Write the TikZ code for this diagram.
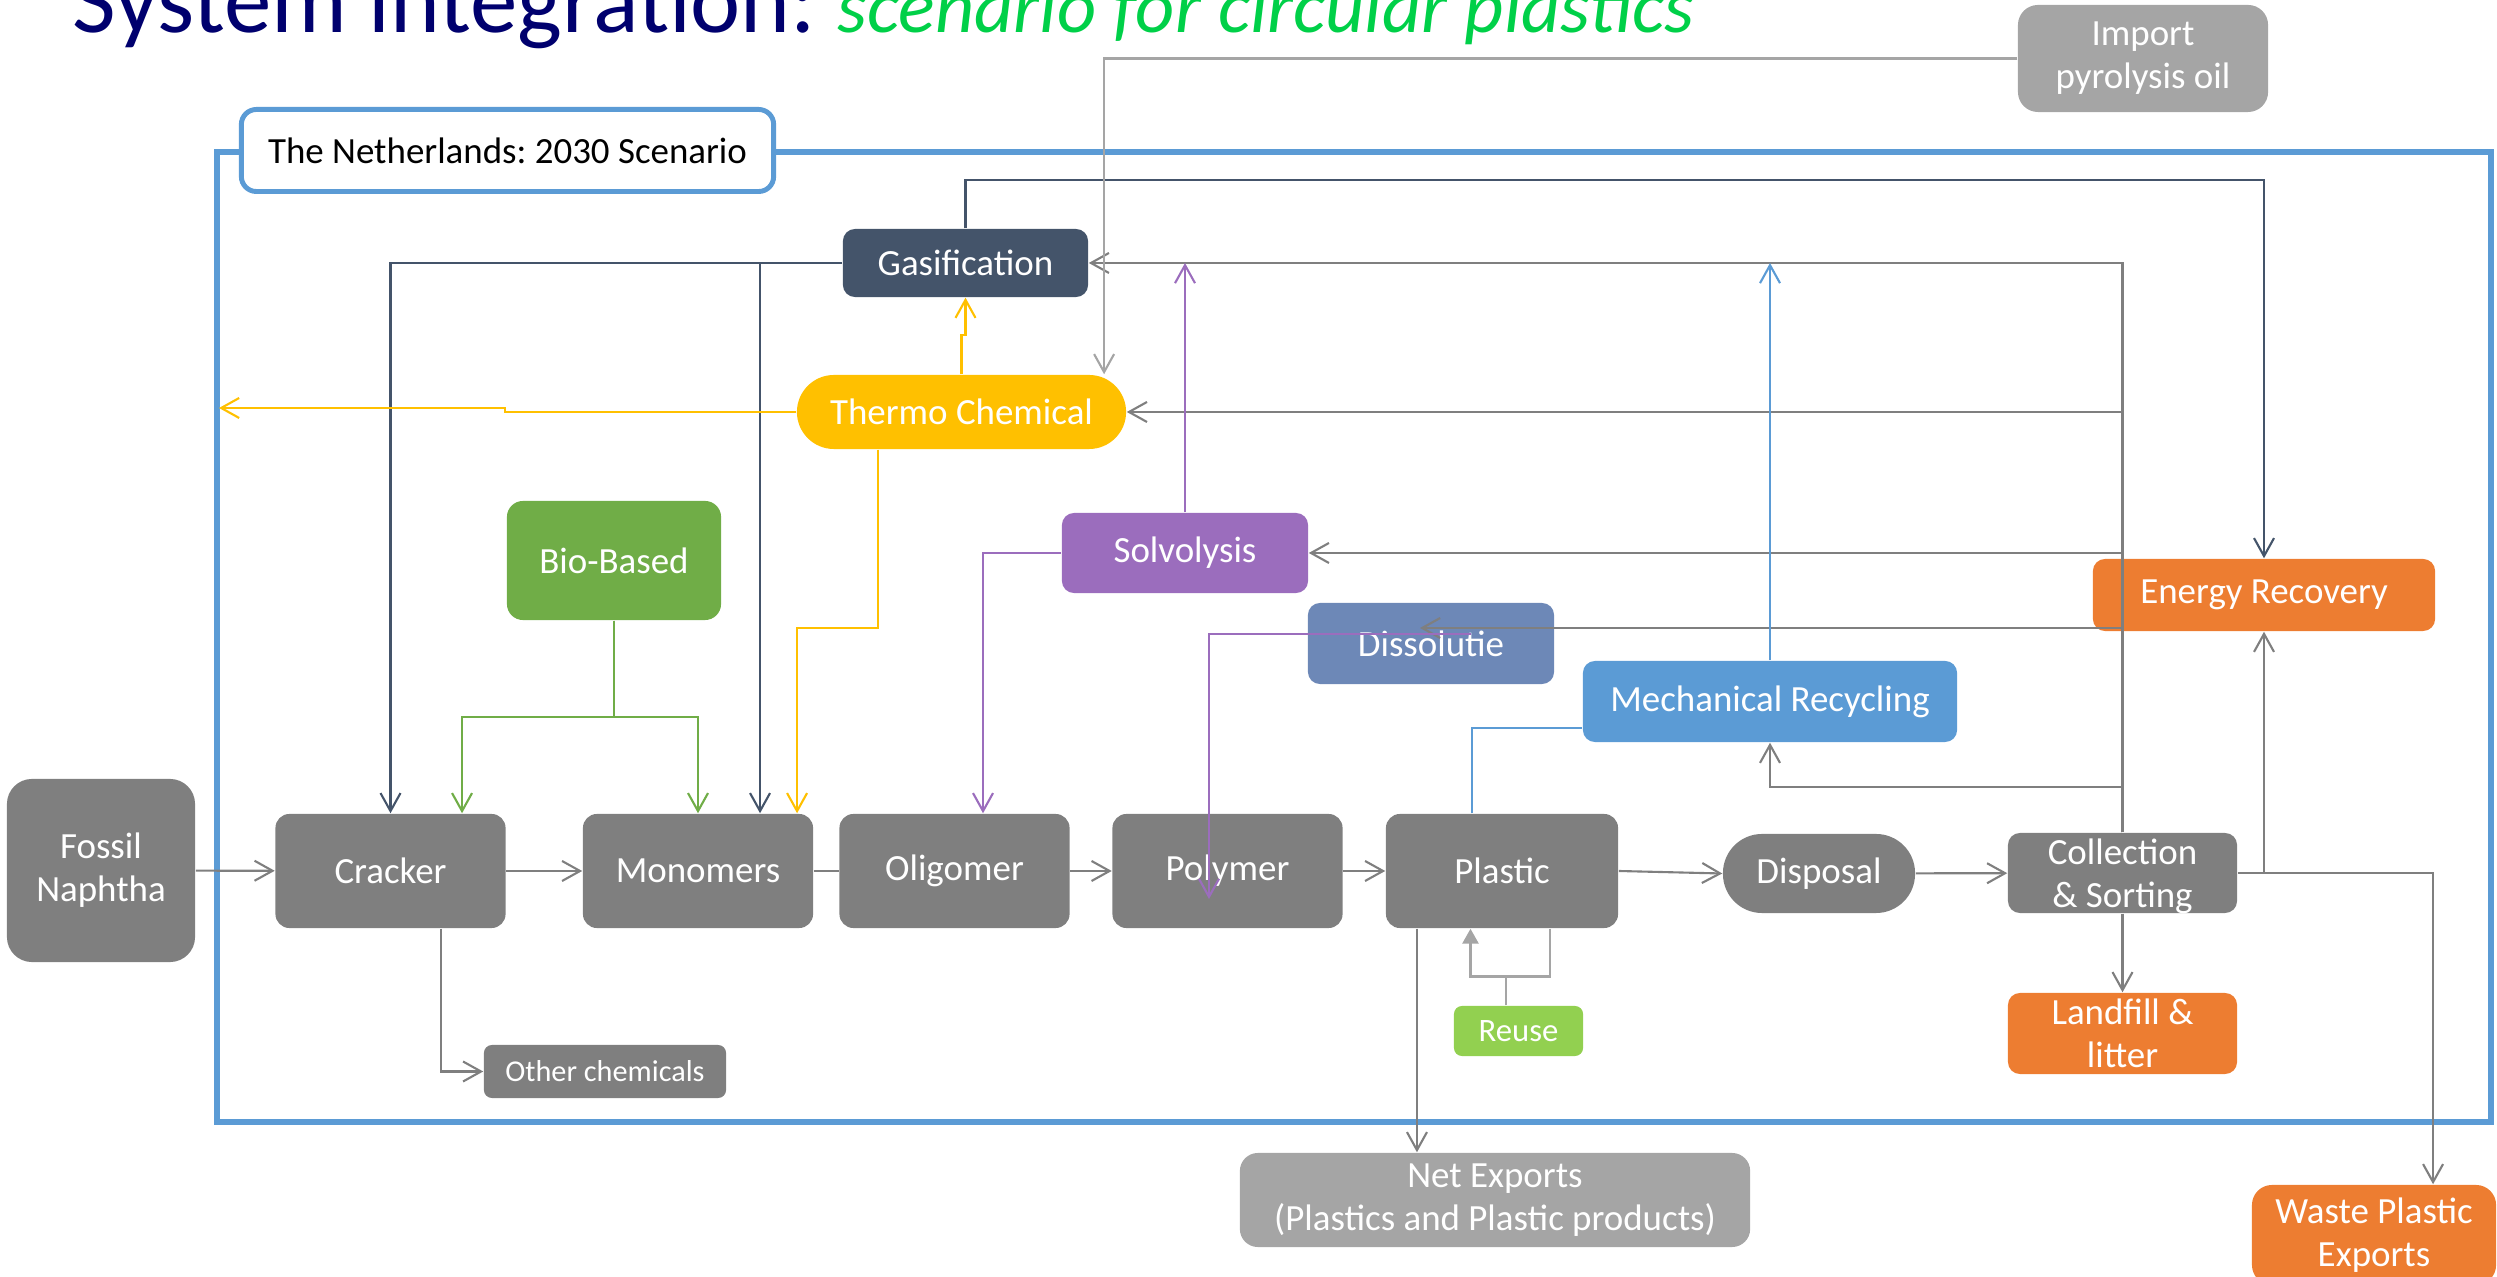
\documentclass[tikz,border=0pt]{standalone}
\usepackage{xcolor}
\usepackage{fontspec}
\setmainfont{Carlito}
\usepackage{tikz}
\usetikzlibrary{shapes,arrows.meta}

\definecolor{boxgray}{RGB}{127,127,127}
\definecolor{exportgray}{RGB}{165,165,165}
\definecolor{slate}{RGB}{68,84,106}
\definecolor{amber}{RGB}{255,192,0}
\definecolor{leaf}{RGB}{112,173,71}
\definecolor{reusegreen}{RGB}{146,208,80}
\definecolor{orangebox}{RGB}{237,125,49}
\definecolor{solvpurple}{RGB}{155,109,189}
\definecolor{dissolblue}{RGB}{109,136,183}
\definecolor{mechblue}{RGB}{91,155,213}
\definecolor{titlenavy}{RGB}{0,0,110}
\definecolor{titlegreen}{RGB}{0,208,72}

\newcommand{\nodefont}{\fontsize{10.5}{12.2}\selectfont}
\newcommand{\smallnodefont}{\fontsize{8.6}{10}\selectfont}

\begin{document}
\frenchspacing
\begin{tikzpicture}[x=0.01cm, y=-0.01cm]
\tikzstyle{box}=[rounded corners=0.14cm, text=white, font=\nodefont, align=center, inner sep=0pt]
\tikzstyle{graybox}=[box, fill=boxgray]
\tikzstyle{stepbox}=[graybox, minimum width=2.3cm, minimum height=1.14cm]
\tikzstyle{orangebox}=[box, fill=orangebox]
\tikzstyle{exportbox}=[box, fill=exportgray]
\tikzstyle{link}=[draw=boxgray, line width=0.6pt]
\tikzstyle{flow}=[link, -{Straight Barb[length=0.18cm,width=0.2cm]}]
\tikzstyle{slateflow}=[flow, draw=slate]
\tikzstyle{yellowflow}=[flow, draw=amber]
\tikzstyle{greenflow}=[flow, draw=leaf]
\tikzstyle{purpleflow}=[flow, draw=solvpurple]
\tikzstyle{blueflow}=[flow, draw=mechblue]
\tikzstyle{frameline}=[draw=mechblue, line width=1.7pt]
\useasboundingbox (0,0) rectangle (2497,1277);

\node[anchor=base west, inner sep=0pt] (title) at (72,33) {{\fontsize{27}{30}\selectfont\color{titlenavy}System integration: }{\fontsize{21.7}{24}\selectfont\itshape\color{titlegreen}scenario for circular plastics}};

\draw[frameline] (217,152) rectangle (2491,1122);
\node[draw=mechblue, line width=1.4pt, fill=white, rounded corners=0.15cm, minimum width=5.32cm, minimum height=0.82cm, font=\nodefont] (country) at (507.5,150.5) {The Netherlands: 2030 Scenario};

% main chain
\node[graybox, rounded corners=0.25cm, minimum width=1.88cm, minimum height=1.83cm] (fossil) at (101,870.5) {Fossil\\Naphtha};
\node[stepbox] (cracker) at (390.5,871) {Cracker};
\node[stepbox] (monomers) at (698,871) {Monomers};
\node[stepbox] (oligomer) at (954.5,871) {Oligomer};
\node[stepbox] (polymer) at (1227.5,871) {Polymer};
\node[stepbox, minimum width=2.32cm] (plastic) at (1502,871) {Plastic};
\node[graybox, rounded corners=0.39cm, minimum width=1.92cm, minimum height=0.79cm] (disposal) at (1819,873.5) {Disposal};
\node[graybox, rounded corners=0.12cm, minimum width=2.29cm, minimum height=0.8cm] (collect) at (2122.5,873) {\raisebox{-0.14cm}[0pt][0pt]{\begin{tabular}{@{}c@{}}Collection\\\& Sorting\end{tabular}}};
\node[orangebox, rounded corners=0.12cm, minimum width=2.29cm, minimum height=0.81cm] (landfill) at (2122.5,1033.5) {Landfill \&\\litter};
\node[box, fill=reusegreen, font=\fontsize{9.3}{11}\selectfont, rounded corners=0.08cm, minimum width=1.29cm, minimum height=0.5cm] (reuse) at (1518.5,1031) {Reuse};
\node[exportbox, rounded corners=0.18cm, minimum width=5.1cm, minimum height=0.94cm] (netexp) at (1495,1200) {Net Exports\\(Plastics and Plastic products)};
\node[orangebox, rounded corners=0.2cm, minimum width=2.44cm, minimum height=1cm] (waste) at (2374,1235) {Waste Plastic\\Exports};
\node[graybox, font=\smallnodefont, rounded corners=0.08cm, minimum width=2.42cm, minimum height=0.53cm] (other) at (605,1071.5) {Other chemicals};

% recovery routes
\node[box, fill=leaf, rounded corners=0.16cm, minimum width=2.14cm, minimum height=1.19cm] (bio) at (614,560.5) {Bio-Based};
\node[box, fill=slate, rounded corners=0.12cm, minimum width=2.45cm, minimum height=0.68cm] (gasif) at (965.5,263) {Gasification};
\node[box, fill=amber, rounded corners=0.37cm, minimum width=3.29cm, minimum height=0.74cm] (thermo) at (961.5,412) {Thermo Chemical};
\node[box, fill=solvpurple, rounded corners=0.12cm, minimum width=2.46cm, minimum height=0.8cm] (solvo) at (1185,553) {Solvolysis};
\node[box, fill=dissolblue, rounded corners=0.12cm, minimum width=2.46cm, minimum height=0.81cm] (dissol) at (1431,643.5) {Dissolutie};
\node[box, fill=mechblue, rounded corners=0.12cm, minimum width=3.74cm, minimum height=0.81cm] (mech) at (1770,701.5) {Mechanical Recycling};
\node[orangebox, rounded corners=0.12cm, minimum width=3.42cm, minimum height=0.72cm] (energy) at (2264,595) {Energy Recovery};
\node[exportbox, rounded corners=0.2cm, minimum width=2.5cm, minimum height=1.07cm] (import) at (2143,58.5) {Import\\pyrolysis oil};

\draw[flow] (fossil) -- (cracker);
\draw[flow] (cracker) -- (monomers);
\draw[link] (monomers) -- (oligomer);
\draw[flow] (oligomer) -- (polymer);
\draw[flow] (polymer) -- (plastic);
\draw[flow] (plastic.east) -- (disposal.west);
\draw[flow] (disposal) -- (collect);

\draw[flow] ([xshift=0.505cm]cracker.south) |- (other.west);
\coordinate (netin) at ([xshift=-0.85cm]plastic.south);
\draw[flow] (netin) -- (netin |- netexp.north);
\coordinate (reusea) at ([xshift=0.48cm]plastic.south);
\coordinate (reuseb) at ([xshift=-0.315cm]plastic.south);
\draw[draw=exportgray, line width=0.8pt, -{Triangle[length=0.15cm,width=0.16cm]}] (reusea) -- ++(0,48) -| (reuseb);
\draw[draw=exportgray, line width=0.6pt] ([xshift=-0.125cm]reuse.north) -- ++(0,-29);

\draw[flow] (collect) -- (landfill);
\draw[flow] (collect.east) -| (energy.south);
\coordinate (wastein) at ([xshift=0.59cm]waste.north);
\draw[flow] (collect.east) -| (wastein);

% back to the recovery routes
\draw[flow] (collect.north) |- (gasif.east);
\draw[flow] (collect.north) |- (thermo.east);
\draw[flow] (collect.north) |- (solvo.east);
\coordinate (dissolin) at ([xshift=-0.11cm,yshift=0.155cm]dissol.center);
\draw[flow] (collect.north) |- (dissolin);
\draw[flow] (collect.north) -- ++(0,-45) -| (mech.south);

\draw[slateflow] (gasif.north) -- ++(0,-48) -| (energy.north);
\draw[slateflow] (gasif.west) -| (cracker.north);
\draw[slateflow] (gasif.west) -| ([xshift=0.62cm]monomers.north);
\draw[flow, draw=exportgray] (import.west) -| ([xshift=1.425cm]thermo.north);

\coordinate (thermoout) at (219,408);
\draw[yellowflow] (thermo.north) -- ++(0,-39) -| (gasif.south);
\draw[yellowflow] (thermo.west) -- ++(-291,0) -- ++(0,-4) -- (thermoout);
\draw[yellowflow] ([xshift=-0.835cm]thermo.south) -- ++(0,178) -| ([xshift=0.99cm]monomers.north);

\draw[greenflow] (bio.south) -- ++(0,96) -| ([xshift=0.715cm]cracker.north);
\draw[greenflow] (bio.south) -- ++(0,96) -| (monomers.north);

\draw[purpleflow] (solvo.north) -- (solvo.north |- gasif.east);
\draw[purpleflow] (solvo.west) -| ([xshift=0.285cm]oligomer.north);
\draw[purpleflow] ([xshift=0.4cm,yshift=0.095cm]dissol.center) -| ([xshift=-0.185cm,yshift=-0.28cm]polymer.center);

\draw[link, draw=mechblue] ([xshift=-0.3cm]plastic.north) |- ([yshift=-0.265cm]mech.west);
\draw[blueflow] (mech.north) -- (mech.north |- gasif.east);
\end{tikzpicture}
\end{document}
